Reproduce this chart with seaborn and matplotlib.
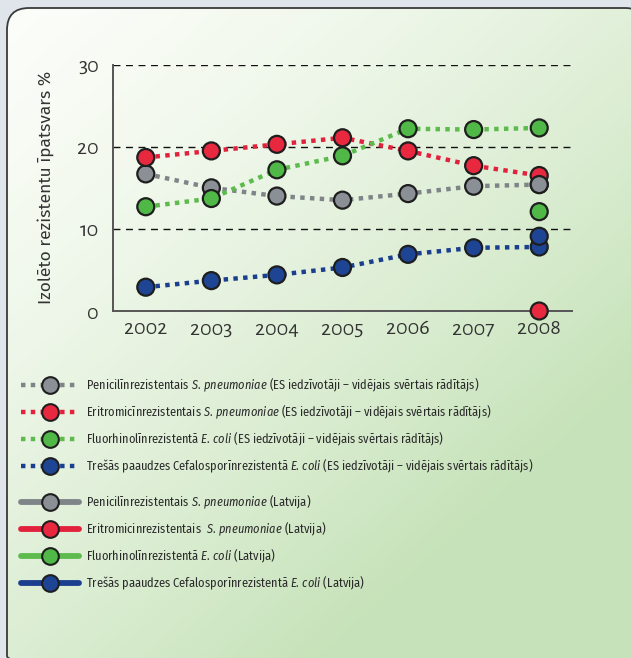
import numpy as np
import pandas as pd
import matplotlib
matplotlib.use("Agg")
import matplotlib.pyplot as plt
from matplotlib import font_manager
from matplotlib.lines import Line2D
from matplotlib.patches import FancyBboxPatch
import seaborn as sns

# data
years = [2002, 2003, 2004, 2005, 2006, 2007, 2008]
eu_penicillin = [16.7, 15.0, 14.0, 13.5, 14.3, 15.2, 15.4]
eu_erythromycin = [18.7, 19.5, 20.3, 21.1, 19.5, 17.7, 16.5]
eu_fluoroquinolone = [12.7, 13.7, 17.2, 18.9, 22.2, 22.1, 22.3]
eu_cephalosporin = [2.9, 3.7, 4.4, 5.3, 6.9, 7.7, 7.8]

lv_years = [2008, 2008, 2008, 2008]
lv_values = [15.4, 0.0, 12.1, 9.1]

series = ["pen", "ery", "flu", "cef"]
line_colors = ["#7f8489", "#e2223d", "#5cbb4c", "#1b3f8e"]
marker_colors = ["#8b9097", "#e8283f", "#4fb847", "#1d4594"]

eu_labels = [
    "Penicilīnrezistentais $\\it{S.\\,pneumoniae}$ (ES iedzīvotāji – vidējais svērtais rādītājs)",
    "Eritromicīnrezistentais $\\it{S.\\,pneumoniae}$ (ES iedzīvotāji – vidējais svērtais rādītājs)",
    "Fluorhinolīnrezistentā $\\it{E.\\,coli}$ (ES iedzīvotāji – vidējais svērtais rādītājs)",
    "Trešās paaudzes Cefalosporīnrezistentā $\\it{E.\\,coli}$ (ES iedzīvotāji – vidējais svērtais rādītājs)",
]
lv_labels = [
    "Penicilīnrezistentais $\\it{S.\\,pneumoniae}$ (Latvija)",
    "Eritromicinrezistentais  $\\it{S.\\,pneumoniae}$ (Latvija)",
    "Fluorhinolīnrezistentā $\\it{E.\\,coli}$ (Latvija)",
    "Trešās paaudzes Cefalosporīnrezistentā $\\it{E.\\,coli}$ (Latvija)",
]

df_eu = pd.DataFrame({
    "year": years * 4,
    "value": eu_penicillin + eu_erythromycin + eu_fluoroquinolone + eu_cephalosporin,
    "series": [s for s in series for _ in years],
})
df_lv = pd.DataFrame({"year": lv_years, "value": lv_values, "series": series})


def pick(candidates, fallback):
    names = {f.name for f in font_manager.fontManager.ttflist}
    for c in candidates:
        if c in names:
            return c
    return fallback


narrow = pick(["Fira Sans Condensed", "Roboto Condensed", "Archivo Narrow",
               "Asap Condensed", "Encode Sans Condensed", "PT Sans Narrow"], "Lato")
humanist = pick(["Alegreya Sans", "Cabin", "Lato"], "DejaVu Sans")
plain = pick(["Fira Sans", "Open Sans", "Lato"], "DejaVu Sans")

sns.set_style("white")
plt.rcParams["font.family"] = [humanist, "DejaVu Sans"]
plt.rcParams["mathtext.fontset"] = "custom"
plt.rcParams["mathtext.it"] = narrow + ":italic"
plt.rcParams["mathtext.rm"] = narrow

W, H = 631, 658
fig = plt.figure(figsize=(W / 100, H / 100), dpi=100)
fig.patch.set_facecolor("#dfe5ea")

# background panel with gradient
bg = fig.add_axes([0, 0, 1, 1], zorder=-10)
bg.set_xlim(0, W)
bg.set_ylim(H, 0)
bg.axis("off")
yy, xx = np.mgrid[0:H, 0:W]
t = np.clip(0.6 * xx / W + 0.7 * yy / H, 0, 1) ** 1.4
c0 = np.array([0.988, 0.994, 0.978])
c1 = np.array([0.78, 0.89, 0.73])
img = c0 + (c1 - c0) * t[..., None] / t.max()
panel = FancyBboxPatch((7, 8), 640, 670, boxstyle="round,pad=0,rounding_size=22",
                       facecolor="none", edgecolor="#3a3a3a", linewidth=1.3,
                       transform=bg.transData)
im = bg.imshow(img, extent=(0, W, H, 0), aspect="auto")
im.set_clip_path(panel)
bg.add_patch(panel)

# main axes
ax = fig.add_axes([113 / W, 1 - 311 / H, (572 - 113) / W, (311 - 64.7) / H])
ax.patch.set_alpha(0)

sns.lineplot(data=df_eu, x="year", y="value", hue="series", palette=line_colors,
             linewidth=3.2, dashes=False, legend=False, ax=ax, zorder=3)
for ln in ax.get_lines():
    ln.set_linestyle((0, (1.0, 1.2)))
    ln.set_dash_capstyle("butt")

sns.scatterplot(data=df_eu, x="year", y="value", hue="series", palette=marker_colors,
                s=150, edgecolor="#1e1e1e", linewidth=1.6, legend=False, ax=ax, zorder=4,
                clip_on=False)
sns.scatterplot(data=df_lv, x="year", y="value", hue="series", palette=marker_colors,
                s=150, edgecolor="#1e1e1e", linewidth=1.6, legend=False, ax=ax, zorder=5,
                clip_on=False)

ax.set_xlim(2001.5, 2008.5)
ax.set_ylim(0, 30)
ax.set_xticks(years)
ax.set_xticks(np.arange(2002.5, 2009, 1.0), minor=True)
ax.set_yticks([0, 10, 20, 30])
ax.tick_params(axis="x", which="major", length=0, pad=6, labelsize=16, labelcolor="#333333")
ax.tick_params(axis="x", which="minor", direction="in", length=7, width=1.3, color="#555555")
ax.tick_params(axis="y", length=0, pad=10, labelsize=16, labelcolor="#333333")
ax.set_xlabel("")
ax.set_ylabel("Izolēto rezistentu īpatsvars %", fontsize=12.5, color="#333333", labelpad=17,
              family=[plain, "DejaVu Sans"])
for side in ["top", "right"]:
    ax.spines[side].set_visible(False)
for side in ["left", "bottom"]:
    ax.spines[side].set_color("#555555")
    ax.spines[side].set_linewidth(1.4)
for v in [10, 20, 30]:
    ax.axhline(v, color="#111111", linewidth=1.0, linestyle=(0, (5, 4)), zorder=1)

# legends
eu_handles = [Line2D([], [], color=lc, linewidth=3.2, linestyle=(0, (1.0, 1.2)),
                     marker="o", markersize=12, markerfacecolor=mc,
                     markeredgecolor="#1e1e1e", markeredgewidth=1.5)
              for lc, mc in zip(line_colors, marker_colors)]
lv_handles = [Line2D([], [], color=lc, linewidth=4.2, linestyle="-",
                     marker="o", markersize=12, markerfacecolor=mc,
                     markeredgecolor="#1e1e1e", markeredgewidth=1.5)
              for lc, mc in zip(line_colors, marker_colors)]

leg_kw = dict(loc="upper left", frameon=False, numpoints=1, handlelength=4.7,
              handletextpad=0.55, labelspacing=0.78, borderaxespad=0, borderpad=0,
              prop={"family": [narrow, "DejaVu Sans"], "size": 8.9},
              labelcolor="#2a2a2a")
fig.legend(eu_handles, eu_labels, bbox_to_anchor=(21 / W, 1 - 377 / H), **leg_kw)
fig.legend(lv_handles, lv_labels, bbox_to_anchor=(21 / W, 1 - 494 / H), **leg_kw)

fig.savefig("out.png", dpi=100)
